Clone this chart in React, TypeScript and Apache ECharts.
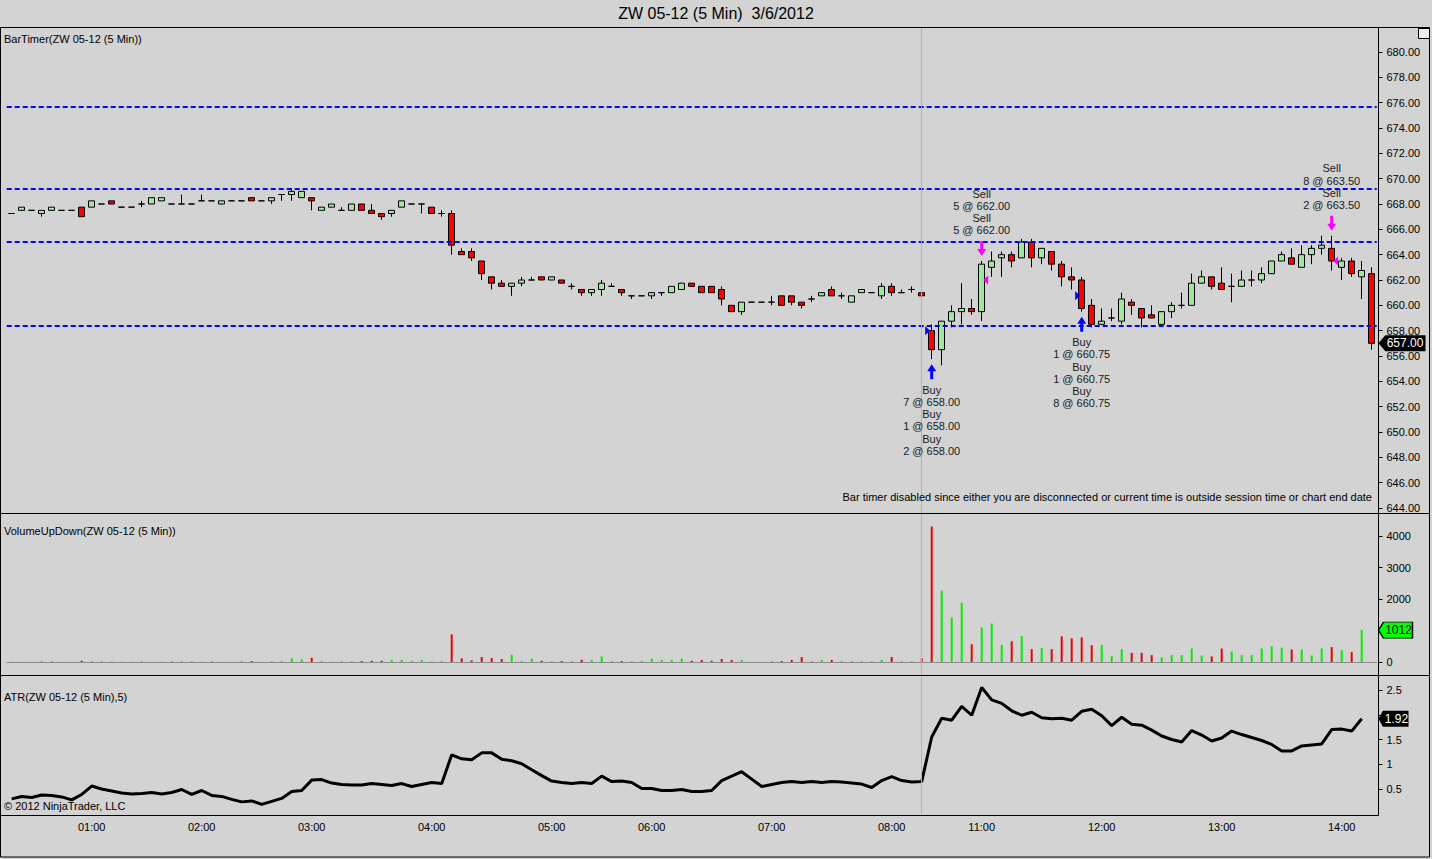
import React, { useEffect, useRef } from 'react';
import * as echarts from 'echarts';

const FONT = '"Liberation Sans", Arial, Helvetica, sans-serif';

// ---- time categories (5-minute bars, overnight session has a few empty slots) ----
const overnightStart = '00:20';
const overnightEnd = '08:15';
const overnightMissing = ['01:40', '02:35', '05:25', '05:50'];
const dayStart = '10:35';
const dayEnd = '14:15';

function buildTimes(start: string, end: string, skip: string[]): string[] {
  const toMin = (s: string) => parseInt(s.slice(0, 2), 10) * 60 + parseInt(s.slice(3), 10);
  const out: string[] = [];
  for (let m = toMin(start); m <= toMin(end); m += 5) {
    const s = String(Math.floor(m / 60)).padStart(2, '0') + ':' + String(m % 60).padStart(2, '0');
    if (!skip.includes(s)) out.push(s);
  }
  return out;
}

// ---- OHLC [open, high, low, close] ----
const ohlcOvernight: number[][] = [
  [667.25, 667.25, 667.25, 667.25], [667.5, 667.75, 667.5, 667.75], [667.5, 667.5, 667.5, 667.5], [667.25, 667.5, 667.0, 667.5],
  [667.5, 667.75, 667.5, 667.75], [667.5, 667.5, 667.5, 667.5], [667.5, 667.5, 667.5, 667.5], [667.75, 667.75, 667.0, 667.0],
  [667.75, 668.25, 667.75, 668.25], [668.0, 668.0, 668.0, 668.0], [668.25, 668.25, 668.0, 668.0], [667.75, 667.75, 667.75, 667.75],
  [667.75, 667.75, 667.75, 667.75], [668.0, 668.25, 667.75, 668.0], [668.0, 668.5, 668.0, 668.5], [668.25, 668.5, 668.25, 668.5],
  [668.0, 668.0, 668.0, 668.0], [668.0, 668.75, 668.0, 668.0], [668.0, 668.0, 668.0, 668.0], [668.25, 668.75, 668.25, 668.25],
  [668.25, 668.25, 668.25, 668.25], [668.0, 668.25, 668.0, 668.25], [668.25, 668.25, 668.25, 668.25], [668.25, 668.25, 668.25, 668.25],
  [668.5, 668.5, 668.25, 668.25], [668.25, 668.25, 668.25, 668.25], [668.25, 668.5, 668.0, 668.5], [668.75, 668.75, 668.25, 668.75],
  [668.75, 669.25, 668.25, 669.0], [668.5, 669.0, 668.5, 669.0], [668.5, 668.5, 667.5, 668.25], [667.5, 667.75, 667.5, 667.75],
  [667.75, 668.0, 667.75, 668.0], [667.5, 667.75, 667.5, 667.5], [667.5, 668.0, 667.5, 668.0], [668.0, 668.0, 667.5, 667.5],
  [667.5, 668.0, 667.25, 667.25], [667.25, 667.25, 666.75, 667.0], [667.25, 667.5, 667.0, 667.5], [667.75, 668.25, 667.75, 668.25],
  [668.0, 668.0, 668.0, 668.0], [668.0, 668.0, 667.25, 668.0], [667.75, 667.75, 667.25, 667.25], [667.25, 667.5, 667.0, 667.25],
  [667.25, 667.5, 664.0, 664.75], [664.25, 664.5, 664.0, 664.0], [664.25, 664.5, 663.5, 663.75], [663.5, 663.5, 662.0, 662.5],
  [662.25, 662.25, 661.25, 661.75], [661.75, 662.0, 661.5, 661.5], [661.5, 661.75, 660.75, 661.75], [661.75, 662.25, 661.5, 662.0],
  [662.0, 662.25, 662.0, 662.0], [662.25, 662.25, 662.0, 662.0], [662.0, 662.25, 662.0, 662.25], [662.0, 662.0, 661.75, 661.75],
  [661.5, 661.75, 661.25, 661.5], [661.25, 661.25, 660.75, 661.0], [661.0, 661.25, 660.75, 661.25], [661.25, 662.0, 660.75, 661.75],
  [661.5, 661.75, 661.5, 661.5], [661.25, 661.25, 660.75, 661.0], [660.75, 660.75, 660.5, 660.75], [660.75, 660.75, 660.75, 660.75],
  [660.75, 661.0, 660.5, 661.0], [661.0, 661.0, 660.75, 661.0], [661.0, 661.5, 661.0, 661.5], [661.25, 661.75, 661.25, 661.75],
  [661.75, 661.75, 661.5, 661.5], [661.5, 661.5, 661.0, 661.0], [661.5, 661.5, 661.0, 661.0], [661.25, 661.5, 660.0, 660.5],
  [660.0, 660.0, 659.5, 659.5], [659.5, 660.25, 659.25, 660.25], [660.25, 660.25, 660.25, 660.25], [660.25, 660.25, 660.25, 660.25],
  [660.25, 660.75, 660.0, 660.25], [660.75, 660.75, 660.0, 660.0], [660.75, 660.75, 660.0, 660.25], [660.25, 660.25, 659.75, 660.0],
  [660.5, 660.75, 660.25, 660.5], [660.75, 661.0, 660.75, 661.0], [661.25, 661.5, 660.75, 660.75], [660.75, 661.0, 660.5, 660.75],
  [660.25, 660.75, 660.25, 660.75], [661.0, 661.25, 661.0, 661.25], [661.0, 661.0, 661.0, 661.0], [660.75, 661.75, 660.5, 661.5],
  [661.5, 661.75, 660.75, 661.0], [661.0, 661.25, 661.0, 661.0], [661.25, 661.5, 661.0, 661.25], [661.0, 661.0, 660.5, 660.75],
];

const ohlcDay: number[][] = [
  [658.0, 658.5, 655.75, 656.5], [656.5, 658.75, 655.25, 658.75], [658.75, 660.0, 658.25, 659.5], [659.5, 661.75, 658.5, 659.75],
  [659.75, 660.5, 659.25, 659.5], [659.5, 663.5, 658.75, 663.25], [663.0, 664.25, 662.25, 663.5], [663.75, 664.25, 662.25, 664.0],
  [664.0, 664.25, 663.0, 663.5], [663.75, 665.25, 663.75, 665.0], [665.0, 665.25, 663.0, 663.75], [663.75, 664.5, 663.25, 664.5],
  [664.25, 664.25, 662.75, 663.25], [663.25, 663.5, 661.5, 662.25], [662.25, 663.0, 661.25, 662.0], [662.0, 662.25, 659.5, 659.75],
  [660.0, 660.5, 658.25, 658.5], [658.5, 659.75, 658.5, 658.75], [659.0, 659.75, 658.75, 659.0], [658.75, 661.0, 658.5, 660.5],
  [660.25, 660.5, 659.25, 660.0], [659.75, 659.75, 658.25, 659.0], [659.25, 660.0, 659.0, 659.0], [658.5, 659.5, 658.5, 659.5],
  [659.5, 660.25, 659.0, 660.0], [660.0, 661.0, 659.75, 660.0], [660.0, 662.5, 660.0, 661.75], [661.75, 662.75, 661.75, 662.25],
  [662.25, 662.25, 661.25, 661.5], [661.75, 663.0, 661.25, 661.25], [661.5, 662.5, 660.25, 661.5], [661.5, 662.75, 661.5, 662.0],
  [662.0, 662.75, 661.5, 662.0], [662.0, 663.0, 661.75, 662.5], [662.5, 663.5, 662.5, 663.5], [663.5, 664.25, 663.5, 664.0],
  [663.75, 664.5, 663.25, 663.25], [663.0, 664.75, 663.0, 664.0], [664.0, 664.75, 663.25, 664.5], [664.5, 665.5, 664.0, 664.75],
  [664.5, 665.5, 662.75, 663.5], [663.0, 663.75, 662.0, 663.5], [663.5, 663.75, 662.25, 662.5], [662.25, 663.5, 660.5, 662.75],
  [662.5, 663.0, 656.5, 657.0],
];

// ---- VolumeUpDown ----
const volumeOvernight: number[] = [
  10, 10, 10, 30, 30, 10, 10, 40, 30, 30, 10, 10, 10, 30, 10, 10, 30, 30, 30, 10,
  30, 10, 10, 30, 30, 10, 30, 30, 115, 84, 137, 30, 10, 30, 30, 30, 40, 40, 63, 63,
  40, 63, 10, 30, 880, 115, 52, 157, 126, 94, 230, 30, 105, 40, 30, 30, 30, 73, 63, 178,
  30, 30, 30, 40, 105, 63, 63, 105, 40, 63, 40, 94, 63, 63, 0, 0, 30, 30, 63, 157,
  30, 63, 63, 30, 30, 30, 30, 63, 157, 30, 30, 115,
];
const volumeDay: (number | null)[] = [
  4300, 2266, 1410, 1880, 564, 1097, 1222, 543, 658, 825, 407, 439, 407, 815, 752, 783, 533, 543, 188, 407,
  292, 292, 219, 146, 219, 219, 428, 209, 178, 428, 334, 219, 219, 428, 501, 459, 397, 397, 209, 428,
  470, 376, 313, 1012, null,
];

// ---- ATR(5) ----
const atrOvernight: number[] = [
  0.30, 0.35, 0.33, 0.38, 0.37, 0.34, 0.28, 0.39, 0.56, 0.50,
  0.46, 0.42, 0.40, 0.41, 0.43, 0.40, 0.43, 0.49, 0.39, 0.47,
  0.37, 0.35, 0.29, 0.24, 0.26, 0.19, 0.25, 0.31, 0.45, 0.47,
  0.68, 0.69, 0.62, 0.59, 0.58, 0.58, 0.61, 0.59, 0.57, 0.61,
  0.55, 0.59, 0.63, 0.61, 1.19, 1.11, 1.09, 1.23, 1.23, 1.10,
  1.07, 1.01, 0.89, 0.77, 0.66, 0.63, 0.61, 0.63, 0.61, 0.76,
  0.65, 0.66, 0.63, 0.51, 0.51, 0.47, 0.47, 0.49, 0.45, 0.45,
  0.47, 0.67, 0.76, 0.85, 0.70, 0.55, 0.59, 0.63, 0.65, 0.63,
  0.65, 0.63, 0.65, 0.64, 0.62, 0.60, 0.53, 0.67, 0.75, 0.67,
  0.64, 0.65,
];
const atrDay: (number | null)[] = [
  1.55, 1.93, 1.89, 2.17, 1.99, 2.55, 2.30, 2.23, 2.08, 1.99,
  2.05, 1.94, 1.92, 1.93, 1.89, 2.07, 2.11, 1.98, 1.78, 1.95,
  1.81, 1.79, 1.69, 1.57, 1.50, 1.45, 1.68, 1.59, 1.47, 1.53,
  1.67, 1.60, 1.54, 1.48, 1.40, 1.27, 1.27, 1.37, 1.39, 1.41,
  1.70, 1.71, 1.67, 1.92, null,
];

// ---- horizontal levels and ticks ----
const levelLines = [675.7, 669.2, 665.0, 658.4];
const priceTicks = [644, 646, 648, 650, 652, 654, 656, 658, 660, 662, 664, 666, 668, 670, 672, 674, 676, 678, 680];
const volumeTicks = [0, 1000, 2000, 3000, 4000];
const volumeLabels = [0, 2000, 3000, 4000];
const atrTicks = [0.5, 1, 1.5, 2, 2.5];
const atrLabels = [0.5, 1, 1.5, 2.5];

// ---- executions ----
const trades = [
  { bar: 92, side: 'Buy', price: 658.0, lines: ['Buy', '7 @ 658.00', 'Buy', '1 @ 658.00', 'Buy', '2 @ 658.00'] },
  { bar: 97, side: 'Sell', price: 662.0, lines: ['Sell', '5 @ 662.00', 'Sell', '5 @ 662.00'] },
  { bar: 107, side: 'Buy', price: 660.75, lines: ['Buy', '1 @ 660.75', 'Buy', '1 @ 660.75', 'Buy', '8 @ 660.75'] },
  { bar: 132, side: 'Sell', price: 663.5, lines: ['Sell', '8 @ 663.50', 'Sell', '2 @ 663.50'] },
];

const UP_COLOR = '#A0E8A0';
const DOWN_COLOR = '#FF0000';
const VOL_UP = '#00EE00';
const VOL_DOWN = '#EE0000';
const BUY_COLOR = '#0000FF';
const SELL_COLOR = '#FF00FF';

const ARROW_UP = 'path://M4.5,0 L9,7 L6,7 L6,15 L3,15 L3,7 L0,7 Z';
const ARROW_DOWN = 'path://M3,0 L6,0 L6,8 L9,8 L4.5,15 L0,8 L3,8 Z';
const TRI_RIGHT = 'path://M0,0 L10,5 L0,10 Z';
const TRI_LEFT = 'path://M10,0 L0,5 L10,10 Z';
const TAG = 'path://M0,8 L7,0 L48,0 L48,16 L7,16 Z';

function buildOption() {
  const times = [
    ...buildTimes(overnightStart, overnightEnd, overnightMissing),
    ...buildTimes(dayStart, dayEnd, []),
  ];
  const ohlc = [...ohlcOvernight, ...ohlcDay];
  const candles = ohlc.map(([o, h, l, c]) => [o, c, l, h]);
  const volumes = [...volumeOvernight, ...volumeDay];
  const atr = [...atrOvernight, ...atrDay];
  const breakIndex = ohlcOvernight.length - 1;

  const volData = volumes.map((v, i) =>
    v == null ? '-' : { value: v, itemStyle: { color: ohlc[i][3] >= ohlc[i][0] ? VOL_UP : VOL_DOWN } }
  );

  const tradeItems: any[] = [];
  trades.forEach((t) => {
    const bar = ohlc[t.bar];
    const isBuy = t.side === 'Buy';
    const anchor = isBuy ? bar[2] : bar[1];
    const color = isBuy ? BUY_COLOR : SELL_COLOR;
    tradeItems.push({
      value: [t.bar, anchor],
      symbol: isBuy ? ARROW_UP : ARROW_DOWN,
      symbolSize: [9, 15],
      symbolOffset: [0, isBuy ? 12.5 : -12.5],
      itemStyle: { color, opacity: 1 },
    });
    tradeItems.push({
      value: [t.bar, anchor],
      symbol: 'circle',
      symbolSize: 1,
      itemStyle: { color: 'rgba(0,0,0,0)', opacity: 1 },
      label: {
        show: true,
        position: isBuy ? 'bottom' : 'top',
        distance: 24,
        formatter: t.lines.join('\n'),
        fontFamily: FONT,
        fontSize: 11,
        lineHeight: 12.2,
        color: '#1A1A1A',
        opacity: 1,
        align: 'center',
      },
    });
    tradeItems.push({
      value: [t.bar, t.price],
      symbol: isBuy ? TRI_RIGHT : TRI_LEFT,
      symbolSize: [5, 9],
      symbolOffset: [isBuy ? -4 : 4, 0],
      itemStyle: { color, opacity: 1 },
    });
  });

  const lastIdx = ohlc.length - 1;
  const lastClose = ohlc[lastIdx][3];
  let lastVolIdx = volumes.length - 1;
  while (volumes[lastVolIdx] == null) lastVolIdx--;
  let lastAtrIdx = atr.length - 1;
  while (atr[lastAtrIdx] == null) lastAtrIdx--;

  const breakLine = {
    xAxis: breakIndex,
    lineStyle: { color: '#B4B4B4', width: 1, type: 'solid' },
  };

  const gridLeft = 6.7;
  const gridWidth = 1370;
  const catW = gridWidth / times.length;
  const xOf = (i: number) => gridLeft + catW * (i + 0.5);
  const axisX = 1378.5;

  const yAxisCommon = {
    position: 'right',
    offset: axisX - (gridLeft + gridWidth),
    axisLine: { show: false },
    splitLine: { show: false },
    axisTick: { show: true, length: 4, lineStyle: { color: '#000' } },
  };
  const labelCommon = { color: '#000', fontSize: 11, fontFamily: FONT, margin: 8 };

  const textStyle = (text: string, x: number, y: number, extra: any = {}) => ({
    type: 'text',
    silent: true,
    z: 50,
    style: { text, x, y, fill: '#000', font: '11px ' + FONT, verticalAlign: 'middle', align: 'left', ...extra },
  });
  const lineEl = (x1: number, y1: number, x2: number, y2: number) => ({
    type: 'line',
    silent: true,
    z: 60,
    shape: { x1, y1, x2, y2 },
    style: { stroke: '#000', lineWidth: 1 },
  });

  const tagLabel = (text: string, color: string) => ({
    show: true, position: 'inside', offset: [3, 0], formatter: text, color, fontSize: 12, fontFamily: FONT, opacity: 1,
  });

  return {
    animation: false,
    backgroundColor: '#D3D3D3',
    grid: [
      { left: gridLeft, width: gridWidth, top: 28, height: 485 },
      { left: gridLeft, width: gridWidth, top: 513, height: 162 },
      { left: gridLeft, width: gridWidth, top: 675, height: 140 },
    ],
    xAxis: [
      { type: 'category', gridIndex: 0, data: times, boundaryGap: true, show: false },
      {
        type: 'category', gridIndex: 1, data: times, boundaryGap: true,
        axisLine: { show: true, onZero: true, lineStyle: { color: '#8C8C8C', width: 1 } },
        axisTick: { show: false }, axisLabel: { show: false }, splitLine: { show: false },
      },
      {
        type: 'category', gridIndex: 2, data: times, boundaryGap: true,
        axisLine: { show: false }, axisTick: { show: false }, splitLine: { show: false },
        axisLabel: {
          ...labelCommon, margin: 6,
          interval: (_i: number, v: string) => v.endsWith(':00'),
        },
      },
    ],
    yAxis: [
      {
        type: 'value', gridIndex: 0, min: 643.605, max: 681.895, ...yAxisCommon,
        axisTick: { ...yAxisCommon.axisTick, customValues: priceTicks },
        axisLabel: { ...labelCommon, customValues: priceTicks, formatter: (v: number) => v.toFixed(2) },
      },
      {
        type: 'value', gridIndex: 1, min: -412.7, max: 4730.7, ...yAxisCommon,
        axisTick: { ...yAxisCommon.axisTick, customValues: volumeTicks },
        axisLabel: { ...labelCommon, customValues: volumeLabels, formatter: (v: number) => String(v) },
      },
      {
        type: 'value', gridIndex: 2, min: -0.025, max: 2.803, ...yAxisCommon,
        axisTick: { ...yAxisCommon.axisTick, customValues: atrTicks },
        axisLabel: { ...labelCommon, customValues: atrLabels, formatter: (v: number) => String(v) },
      },
    ],
    series: [
      {
        name: 'Price', type: 'candlestick', xAxisIndex: 0, yAxisIndex: 0,
        data: candles, barWidth: 7, silent: true,
        itemStyle: {
          color: UP_COLOR, color0: DOWN_COLOR, borderColor: '#000', borderColor0: '#000',
          borderColorDoji: '#000', borderWidth: 1,
        },
        markLine: {
          silent: true, symbol: 'none', label: { show: false }, animation: false,
          data: [
            ...levelLines.map((v) => ({ yAxis: v, lineStyle: { color: '#0000FF', width: 2, type: [5, 3] } })),
            breakLine,
          ],
        },
      },
      {
        name: 'Trades', type: 'scatter', xAxisIndex: 0, yAxisIndex: 0, silent: true, clip: false,
        itemStyle: { opacity: 1 }, data: tradeItems, z: 5,
      },
      {
        name: 'PriceTag', type: 'scatter', xAxisIndex: 0, yAxisIndex: 0, silent: true, clip: false, z: 10,
        itemStyle: { opacity: 1 },
        data: [{
          value: [lastIdx, lastClose],
          symbol: TAG, symbolSize: [47, 16],
          symbolOffset: [axisX + 23.5 - xOf(lastIdx), 0],
          itemStyle: { color: '#000', opacity: 1 },
          label: tagLabel(lastClose.toFixed(2), '#fff'),
        }],
      },
      {
        name: 'Volume', type: 'bar', xAxisIndex: 1, yAxisIndex: 1, data: volData, barWidth: 2, silent: true,
        markLine: { silent: true, symbol: 'none', label: { show: false }, data: [breakLine] },
      },
      {
        name: 'VolTag', type: 'scatter', xAxisIndex: 1, yAxisIndex: 1, silent: true, clip: false, z: 10,
        itemStyle: { opacity: 1 },
        data: [{
          value: [lastVolIdx, volumes[lastVolIdx]],
          symbol: TAG, symbolSize: [34, 16],
          symbolOffset: [axisX + 17 - xOf(lastVolIdx), 0],
          itemStyle: { color: '#00FF00', borderColor: '#000', borderWidth: 1, opacity: 1 },
          label: tagLabel(String(volumes[lastVolIdx]), '#000'),
        }],
      },
      {
        name: 'ATR', type: 'line', xAxisIndex: 2, yAxisIndex: 2, data: atr, showSymbol: false, silent: true,
        lineStyle: { color: '#000', width: 3 },
        markLine: { silent: true, symbol: 'none', label: { show: false }, data: [breakLine] },
      },
      {
        name: 'AtrTag', type: 'scatter', xAxisIndex: 2, yAxisIndex: 2, silent: true, clip: false, z: 10,
        itemStyle: { opacity: 1 },
        data: [{
          value: [lastAtrIdx, atr[lastAtrIdx]],
          symbol: TAG, symbolSize: [30, 16],
          symbolOffset: [axisX + 15 - xOf(lastAtrIdx), 0],
          itemStyle: { color: '#000', opacity: 1 },
          label: tagLabel((atr[lastAtrIdx] as number).toFixed(2), '#fff'),
        }],
      },
    ],
    graphic: [
      {
        type: 'rect', silent: true, z: 60,
        shape: { x: 0.5, y: 27.5, width: 1429, height: 829.5 },
        style: { fill: 'none', stroke: '#000', lineWidth: 1 },
      },
      lineEl(0, 513.5, 1430, 513.5),
      lineEl(0, 675.5, 1430, 675.5),
      lineEl(0, 815.5, axisX, 815.5),
      lineEl(axisX, 27.5, axisX, 815.5),
      {
        type: 'rect', silent: true, z: 61,
        shape: { x: 1418.5, y: 28.5, width: 11, height: 10 },
        style: { fill: '#EDEDED', stroke: '#000', lineWidth: 1 },
      },
      textStyle('F', 1424, 34, { font: '8px ' + FONT, align: 'center', z: 62 }),
      textStyle('ZW 05-12 (5 Min)  3/6/2012', 716, 13, { font: '16px ' + FONT, align: 'center' }),
      textStyle('BarTimer(ZW 05-12 (5 Min))', 4, 39),
      textStyle('VolumeUpDown(ZW 05-12 (5 Min))', 4, 531),
      textStyle('ATR(ZW 05-12 (5 Min),5)', 4, 697),
      textStyle('© 2012 NinjaTrader, LLC', 4, 806),
      textStyle('Bar timer disabled since either you are disconnected or current time is outside session time or chart end date', 1372, 497, { align: 'right' }),
    ],
  };
}

export default function App() {
  const ref = useRef<HTMLDivElement>(null);
  useEffect(() => {
    document.body.style.margin = '0';
    const chart = echarts.init(ref.current as HTMLDivElement, null, { renderer: 'svg' });
    chart.setOption(buildOption() as any);
    return () => chart.dispose();
  }, []);
  return <div ref={ref} style={{ width: 1432, height: 859 }} />;
}
